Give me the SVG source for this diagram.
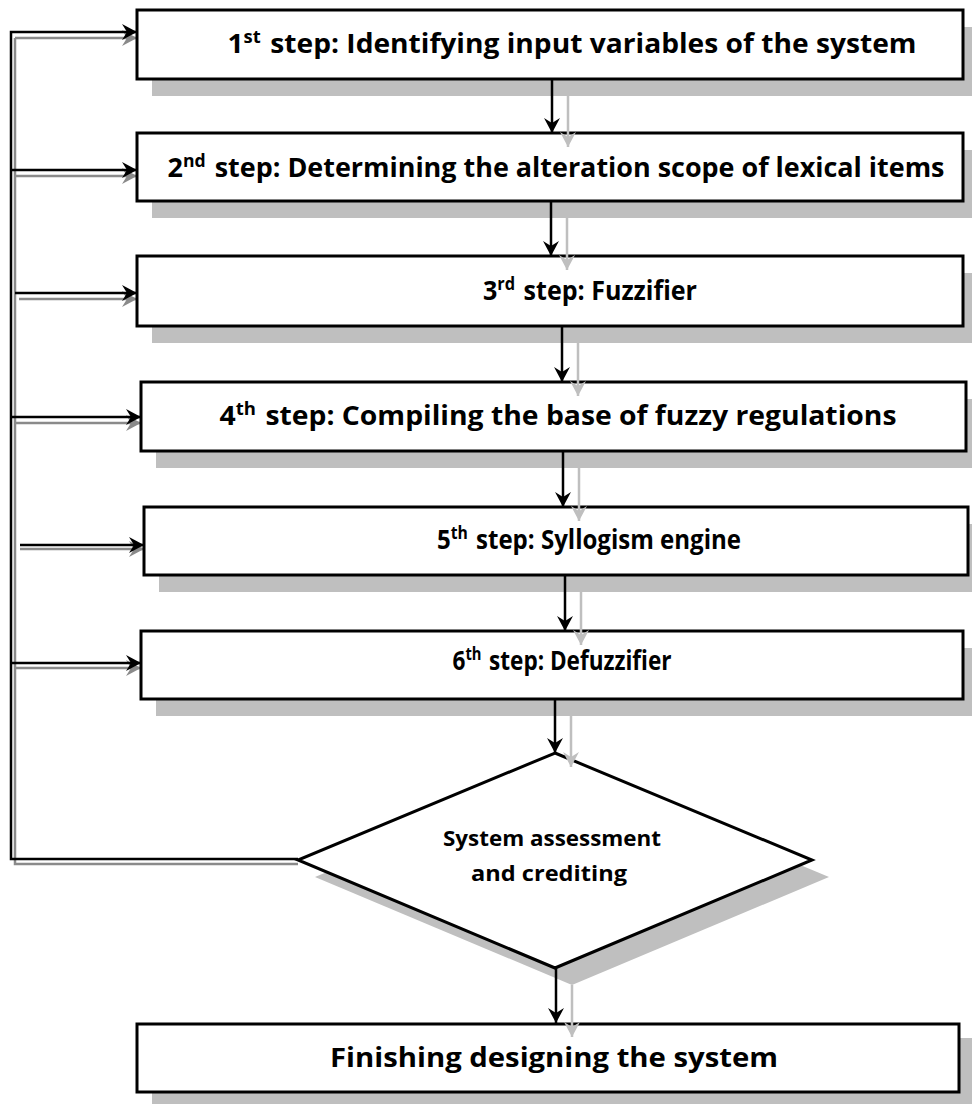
<svg xmlns="http://www.w3.org/2000/svg" width="972" height="1104" viewBox="0 0 972 1104">
<style>
.box{fill:#fff;stroke:#000;stroke-width:3}
.sh{fill:#bfbfbf;stroke:none}
.t{font-family:"Open Sans",Lato,"Liberation Sans",sans-serif;font-weight:bold;font-size:26px;fill:#000;text-anchor:middle}
.ts{font-family:"Open Sans",Lato,"Liberation Sans",sans-serif;font-weight:bold;font-size:21px;fill:#000;text-anchor:middle}
.blk{fill:none;stroke:#000;stroke-width:2.5}
.gd{fill:none;stroke:#8a8a8a;stroke-width:2.5}
.gl{fill:none;stroke:#bfbfbf;stroke-width:2.5}
</style>
<defs>
<marker id="ab" markerUnits="userSpaceOnUse" markerWidth="20" markerHeight="20" refX="0" refY="0" viewBox="-16 -10 20 20" orient="auto"><path d="M0,0 L-15,-8 L-10,0 L-15,8 Z" fill="#000"/></marker>
<marker id="ad" markerUnits="userSpaceOnUse" markerWidth="20" markerHeight="20" refX="0" refY="0" viewBox="-16 -10 20 20" orient="auto"><path d="M0,0 L-15,-8 L-10,0 L-15,8 Z" fill="#8a8a8a"/></marker>
<marker id="al" markerUnits="userSpaceOnUse" markerWidth="20" markerHeight="20" refX="0" refY="0" viewBox="-16 -10 20 20" orient="auto"><path d="M0,0 L-15,-8 L-10,0 L-15,8 Z" fill="#bfbfbf"/></marker>
</defs>

<g id="shadows">
<rect class="sh" x="152" y="27" width="826" height="69"/>
<rect class="sh" x="152" y="150" width="826" height="68"/>
<rect class="sh" x="152" y="273" width="826" height="70"/>
<rect class="sh" x="156" y="399" width="825" height="69"/>
<rect class="sh" x="159" y="524" width="824" height="68"/>
<rect class="sh" x="156" y="648" width="822" height="68"/>
<polygon class="sh" points="572,770 829,877 572,985 315,877"/>
<rect class="sh" x="152" y="1038" width="822" height="68"/>
</g>

<g id="feedback-shadow">
<polyline class="gd" points="298,864 15,864 15,38"/>
<line class="gd" x1="15" y1="38" x2="137" y2="38" marker-end="url(#ad)"/>
<line class="gd" x1="15" y1="176" x2="137" y2="176" marker-end="url(#ad)"/>
<line class="gd" x1="19" y1="299" x2="137" y2="299" marker-end="url(#ad)"/>
<line class="gd" x1="15" y1="423" x2="141" y2="423" marker-end="url(#ad)"/>
<line class="gd" x1="20" y1="549" x2="144" y2="549" marker-end="url(#ad)"/>
<line class="gd" x1="15" y1="668" x2="141" y2="668" marker-end="url(#ad)"/>
</g>

<g id="connectors">
<polyline class="blk" points="298,859 11,859 11,32 137,32" marker-end="url(#ab)"/>
<line class="blk" x1="11" y1="170" x2="137" y2="170" marker-end="url(#ab)"/>
<line class="blk" x1="15" y1="293" x2="137" y2="293" marker-end="url(#ab)"/>
<line class="blk" x1="11" y1="417" x2="141" y2="417" marker-end="url(#ab)"/>
<line class="blk" x1="20" y1="545" x2="144" y2="545" marker-end="url(#ab)"/>
<line class="blk" x1="11" y1="663" x2="141" y2="663" marker-end="url(#ab)"/>
</g>

<g id="n1"><rect class="box" x="137" y="10" width="826" height="69"/>
<text class="t" x="572" y="53" textLength="689" lengthAdjust="spacingAndGlyphs">1<tspan font-size="17" dy="-10">st</tspan><tspan dy="10" dx="2"> step: Identifying input variables of the system</tspan></text></g>
<g id="n2"><rect class="box" x="137" y="133" width="826" height="68"/>
<text class="t" x="556" y="177" textLength="777" lengthAdjust="spacingAndGlyphs">2<tspan font-size="17" dy="-10">nd</tspan><tspan dy="10" dx="2"> step: Determining the alteration scope of lexical items</tspan></text></g>
<g id="n3"><rect class="box" x="137" y="256" width="826" height="70"/>
<text class="t" x="590" y="300" textLength="214" lengthAdjust="spacingAndGlyphs">3<tspan font-size="17" dy="-10">rd</tspan><tspan dy="10" dx="2"> step: Fuzzifier</tspan></text></g>
<g id="n4"><rect class="box" x="141" y="382" width="825" height="69"/>
<text class="t" x="558" y="425" textLength="677" lengthAdjust="spacingAndGlyphs">4<tspan font-size="17" dy="-10">th</tspan><tspan dy="10" dx="2"> step: Compiling the base of fuzzy regulations</tspan></text></g>
<g id="n5"><rect class="box" x="144" y="507" width="824" height="68"/>
<text class="t" x="589" y="549" textLength="304" lengthAdjust="spacingAndGlyphs">5<tspan font-size="17" dy="-10">th</tspan><tspan dy="10" dx="2"> step: Syllogism engine</tspan></text></g>
<g id="n6"><rect class="box" x="141" y="631" width="822" height="68"/>
<text class="t" x="562" y="670" textLength="219" lengthAdjust="spacingAndGlyphs">6<tspan font-size="17" dy="-10">th</tspan><tspan dy="10" dx="2"> step: Defuzzifier</tspan></text></g>
<g id="n7"><polygon class="box" stroke-width="2.5" points="555,753 812,860 555,968 298,860"/>
<text class="ts" x="552" y="846" textLength="218" lengthAdjust="spacingAndGlyphs">System assessment</text>
<text class="ts" x="549" y="881" textLength="156" lengthAdjust="spacingAndGlyphs">and crediting</text></g>
<g id="n8"><rect class="box" x="137" y="1024" width="822" height="68"/>
<text class="t" x="554" y="1067" textLength="448" lengthAdjust="spacingAndGlyphs">Finishing designing the system</text></g>

<g id="flow">
<line class="gl" x1="568" y1="96" x2="568" y2="147" marker-end="url(#al)"/>
<line class="gl" x1="567" y1="218" x2="567" y2="270" marker-end="url(#al)"/>
<line class="gl" x1="578" y1="343" x2="578" y2="396" marker-end="url(#al)"/>
<line class="gl" x1="579" y1="468" x2="579" y2="521" marker-end="url(#al)"/>
<line class="gl" x1="581" y1="592" x2="581" y2="645" marker-end="url(#al)"/>
<line class="gl" x1="571" y1="716" x2="571" y2="767" marker-end="url(#al)"/>
<line class="gl" x1="572" y1="985" x2="572" y2="1037" marker-end="url(#al)"/>
<line class="blk" x1="552" y1="79" x2="552" y2="133" marker-end="url(#ab)"/>
<line class="blk" x1="551" y1="201" x2="551" y2="256" marker-end="url(#ab)"/>
<line class="blk" x1="562" y1="326" x2="562" y2="382" marker-end="url(#ab)"/>
<line class="blk" x1="563" y1="451" x2="563" y2="507" marker-end="url(#ab)"/>
<line class="blk" x1="565" y1="575" x2="565" y2="631" marker-end="url(#ab)"/>
<line class="blk" x1="555" y1="699" x2="555" y2="753" marker-end="url(#ab)"/>
<line class="blk" x1="556" y1="968" x2="556" y2="1023" marker-end="url(#ab)"/>
</g>
</svg>
